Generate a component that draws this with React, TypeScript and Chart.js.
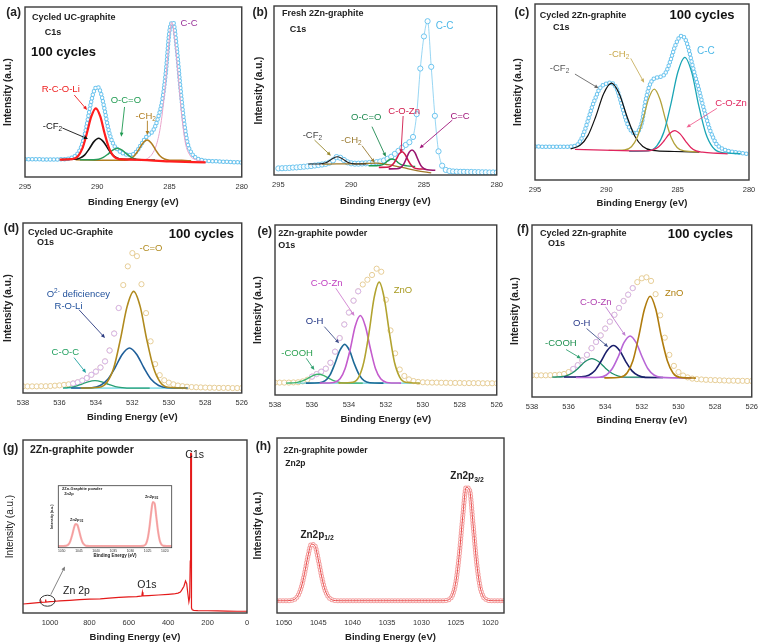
import React, { useEffect, useRef } from "react";
import { Chart, registerables } from "chart.js";
Chart.register(...registerables);

const FONT = '"Liberation Sans", Arial, Helvetica, sans-serif';
Chart.defaults.font.family = FONT;

// ---------- tick labels ----------
const C1S_TICKS = [295, 290, 285, 280];
const O1S_TICKS = [538, 536, 534, 532, 530, 528, 526];
const SURVEY_TICKS = [1000, 800, 600, 400, 200, 0];
const ZN_TICKS = [1050, 1045, 1040, 1035, 1030, 1025, 1020];

// ---------- energy grids ----------
const C1S_E = [295,294.75,294.5,294.25,294,293.75,293.5,293.25,293,292.75,292.5,292.25,292,291.75,291.5,291.25,291,290.75,290.5,290.25,290,289.75,289.5,289.25,289,288.75,288.5,288.25,288,287.75,287.5,287.25,287,286.75,286.5,286.25,286,285.75,285.5,285.25,285,284.75,284.5,284.25,284,283.75,283.5,283.25,283,282.75,282.5,282.25,282,281.75,281.5,281.25,281,280.75,280.5,280.25,280];
const O1S_E = [538,537.75,537.5,537.25,537,536.75,536.5,536.25,536,535.75,535.5,535.25,535,534.75,534.5,534.25,534,533.75,533.5,533.25,533,532.75,532.5,532.25,532,531.75,531.5,531.25,531,530.75,530.5,530.25,530,529.75,529.5,529.25,529,528.75,528.5,528.25,528,527.75,527.5,527.25,527,526.75,526.5,526.25,526];
const ZN_E = [1051,1050.5,1050,1049.5,1049,1048.5,1048,1047.5,1047,1046.5,1046,1045.5,1045,1044.5,1044,1043.5,1043,1042.5,1042,1041.5,1041,1040.5,1040,1039.5,1039,1038.5,1038,1037.5,1037,1036.5,1036,1035.5,1035,1034.5,1034,1033.5,1033,1032.5,1032,1031.5,1031,1030.5,1030,1029.5,1029,1028.5,1028,1027.5,1027,1026.5,1026,1025.5,1025,1024.5,1024,1023.5,1023,1022.5,1022,1021.5,1021,1020.5,1020,1019.5,1019,1018.5,1018];

// ---------- (a) Cycled UC-graphite C1s ----------
const A_ENV = [10.5,10.5,10.4,10.4,10.4,10.3,10.3,10.3,10.3,10.3,10.4,10.5,10.8,11.4,12.6,15.2,20.5,29.5,41,50,53,49.5,40,29,21.5,17.5,15.5,14,13.2,12.9,13.5,15.3,18.5,22,24.5,26,29.5,36,45,62,86,91,76,53,33,20,14.5,11.8,10.5,9.9,9.6,9.4,9.3,9.2,9.1,9,8.9,8.8,8.7,8.6,8.5];
const A_RED_E = [292.6,291.73,291.35,291.04,290.73,290.41,290.1,289.79,289.48,289.16,288.85,288.48,287.6,285,282.5];
const A_RED_I = [10.2,10.5,12.1,16.5,25.3,35.6,40.4,35.6,25.3,16.5,12.1,10.5,10.2,9.2,8.6];
const A_CF2_E = [292.5,291.59,291.2,290.88,290.55,290.23,289.9,289.58,289.25,288.93,288.6,288.21,287.3];
const A_CF2_I = [10.3,10.4,11.1,12.9,16.6,20.8,22.8,20.8,16.6,12.9,11.1,10.4,10.3];
const A_OCO_E = [291.2,290.29,289.9,289.58,289.25,288.93,288.6,288.28,287.95,287.63,287.3,286.91,286.0];
const A_OCO_I = [10.1,10.2,10.5,11.5,13.5,15.8,16.9,15.8,13.5,11.5,10.5,10.2,10.1];
const A_CH2_E = [291.5,288.95,288.11,287.75,287.45,287.15,286.85,286.55,286.25,285.95,285.65,285.35,284.99,284.15,283.5];
const A_CH2_I = [10.1,9.8,9.9,10.6,12.3,15.8,19.9,21.8,19.9,15.8,12.3,10.6,9.9,9.8,9.5];
const A_CC_E = [287,286.5,286.2,285.9,285.6,285.3,285.05,284.85,284.65,284.4,284.15,283.9,283.6,283.2,282.6];
const A_CC_I = [9.6,11,13.5,19,31,53,78,91,82,60,36,20,13,10.2,9.2];

// ---------- (b) Fresh 2Zn-graphite C1s ----------
const B_ENV = [3.9,4.0,4.1,4.2,4.4,4.5,4.7,4.9,5.1,5.3,5.6,5.9,6.2,6.6,7.3,8.6,10.6,10.2,8.9,7.5,6.9,6.7,6.7,6.8,6.9,7.1,7.3,7.6,8.0,8.6,9.6,10.8,12.5,14.3,16.2,17.8,19.4,22.5,36,63,82,91,64,35,14,5.5,3.0,2.4,2.1,2.0,1.9,1.9,1.8,1.8,1.7,1.7,1.6,1.6,1.5,1.5,1.5];
const B_BG_E = [292,291,290,289,288.3,287.5,286.5,285.5,284.5];
const B_BG_I = [6.4,6.6,6.6,6.8,7.0,6.2,4.5,2.6,1.2];
const B_CF2_E = [292.95,292.25,291.95,291.7,291.45,291.2,290.95,290.7,290.45,290.2,289.95,289.65,288.95];
const B_CF2_I = [6.5,6.5,6.8,7.4,8.7,10.1,10.8,10.1,8.7,7.4,6.8,6.5,6.5];
const B_OCO_E = [288.8,288.24,288.0,287.8,287.6,287.4,287.2,287.0,286.8,286.6,286.4,286.16,285.6];
const B_OCO_I = [5.5,5.5,5.75,6.3,7.5,8.9,9.5,8.9,7.5,6.3,5.75,5.4,5.0];
const B_COZN_E = [288.1,287.54,287.3,287.1,286.9,286.7,286.5,286.3,286.1,285.9,285.7,285.46,284.9];
const B_COZN_I = [4.5,4.6,5.1,6.6,9.4,12.5,13.8,12.2,8.9,6.0,4.4,3.7,3.5];
const B_CEC_E = [287.42,286.86,286.62,286.42,286.22,286.02,285.82,285.62,285.42,285.22,285.02,284.78,284.22];
const B_CEC_I = [3.6,3.7,4.3,6.0,9.5,13.4,14.8,13.2,9.3,5.7,3.9,3.1,2.8];

// ---------- (c) Cycled 2Zn-graphite C1s ----------
const C_ENV = [19.0,19.0,18.9,18.9,18.9,18.9,18.9,18.9,18.9,18.9,19.0,19.2,20.3,23.4,28.4,35,41.5,46.8,51.5,53.8,54.8,55.3,54.5,51.5,45,37.5,31.5,27.8,26.5,27.8,33,45,53,57,58.1,58.5,59.3,62.5,68,74.5,79.5,81.8,80.5,75,66.5,58.5,51,43,35.5,28.8,23.8,20,18.4,17.3,16.6,16.1,15.8,15.5,15.2,15.0,14.8];
const C_CF2_E = [292.5,291.84,291.29,290.74,290.19,289.64,289.09,288.54,287.99,287.44,286.78,285.24,283.5];
const C_CF2_I = [17.7,19.7,25.2,36.1,49,55,48.9,35.8,24.7,19,16.8,16.2,15.8];
const C_CH2_E = [289.84,288.72,288.24,287.84,287.44,287.04,286.64,286.24,285.84,285.44,285.04,284.56,283.44];
const C_CH2_I = [16.8,17.1,18.9,24.1,34.2,46.1,51.6,45.9,34.0,23.8,18.5,16.5,16.0];
const C_CC_E = [288.4,287.04,286.45,285.96,285.48,284.99,284.5,284.01,283.53,283.04,282.55,281.96,280.6];
const C_CC_I = [16.3,16.6,19.5,27.4,43,61.2,69.7,61,42.5,26.7,18.7,15.7,15.0];
const C_COZN_E = [292.2,288.2,287.15,286.7,286.33,285.95,285.58,285.2,284.83,284.45,284.08,283.7,283.25,282.2,281.5];
const C_COZN_I = [17.4,16.6,16.5,17.2,18.9,22.3,26.3,28.1,26.2,22.1,18.5,16.5,15.8,15.2,14.9];

// ---------- (d) Cycled UC-Graphite O1s ----------
const D_ENV = [3.9,3.9,3.9,3.9,4.0,4.0,4.1,4.3,4.5,4.8,5.1,5.6,6.3,7.3,8.8,10.7,12.6,15.0,18.6,25,35,50,63.5,74.5,82.3,80.5,64,47,30.4,17,10.5,7.5,6.1,5.1,4.4,4.0,3.7,3.5,3.4,3.3,3.2,3.1,3.1,3.0,3.0,3.0,2.9,2.9,2.9];
const D_RAW_E = [535.25,535,534.75,534.5,534.25,534,533.75,533.5,533.25,533,532.75];
const D_RAW_I = [5.6,6.3,7.3,8.8,10.7,12.6,15.0,18.6,25,35,50];
const D_CO_E = [534.83,533.82,533.38,533.02,532.66,532.29,531.93,531.57,531.21,530.84,530.48,530.05,529.03];
const D_CO_I = [2.9,3.4,6.5,14.8,31.4,50.8,59.8,50.8,31.4,14.8,6.5,3.4,2.9];
const D_ROLI_E = [535.36,534.24,533.76,533.36,532.96,532.56,532.16,531.76,531.36,530.96,530.56,530.08,528.96];
const D_ROLI_I = [2.9,3.1,4.4,7.9,14.7,22.7,26.5,22.7,14.7,7.9,4.4,3.1,2.9];
const D_COC_E = [535.8,535.55,535.18,534.8,534.43,534.05,533.68,533.3,532.93,532.55,532.1,531.05];
const D_COC_I = [2.9,3.18,3.8,5.1,6.6,7.3,6.6,5.1,3.8,3.2,2.9,2.9];
const D_BASE_E = [535.8,529.2];
const D_BASE_I = [2.9,2.9];

// ---------- (e) 2Zn-graphite powder O1s ----------
const E_ENV = [7.3,7.3,7.3,7.3,7.4,7.5,8.0,9.0,10.8,12.3,13.7,15.5,19,25.5,33.5,41.5,48.5,55.5,61,65,67.8,70.6,74.3,72.5,56,38,24.5,15,11.2,9.2,8.2,7.7,7.5,7.4,7.3,7.3,7.2,7.2,7.1,7.1,7.1,7.0,7.0,7.0,7.0,6.9,6.9,6.9,6.9];
const E_RAW_E = [536,535.75,535.5,535.25,535,534.75,534.5,534.25,534,533.75,533.5];
const E_RAW_I = [10.8,12.3,13.7,15.5,19,25.5,33.5,41.5,48.5,55.5,61];
const E_ZNO_E = [534.56,533.79,533.46,533.19,532.91,532.64,532.36,532.09,531.81,531.54,531.26,530.93,530.16];
const E_ZNO_I = [7,7.5,10.7,19.5,36.7,57,66.4,57,36.7,19.5,10.7,7.5,7];
const E_COZN_E = [535.58,534.81,534.48,534.21,533.93,533.66,533.38,533.11,532.83,532.56,532.28,531.95,531.18];
const E_COZN_I = [7,7.4,9.5,15.4,26.9,40.5,46.8,40.5,26.9,15.4,9.5,7.4,7];
const E_OH_E = [536.33,535.6,535.28,535.02,534.76,534.49,534.23,533.97,533.71,533.44,533.18,532.87,532.13];
const E_OH_I = [7,7.2,8.4,11.8,18.4,26.2,29.8,26.2,18.4,11.8,8.4,7.2,7];
const E_COOH_E = [537.4,536.85,536.55,536.25,535.95,535.65,535.35,535.05,534.75,534.45,534.09,533.25];
const E_COOH_I = [7,7.3,8.1,9.6,11.4,12.2,11.4,9.6,8.1,7.3,7.05,7];
const E_BASE_E = [536.8,530.6];
const E_BASE_I = [7,7];

// ---------- (f) Cycled 2Zn-graphite O1s ----------
const F_ENV = [12.6,12.6,12.6,12.6,12.7,12.8,13.0,13.4,14.5,16.3,18.5,21.3,24.5,28.4,32,35.8,39.8,43.8,47.8,51.8,55.8,59.5,63.3,66.8,69,69.6,67.5,59.8,47.5,34.5,24.5,18.1,14.5,12.5,11.4,10.7,10.4,10.2,10.0,9.9,9.8,9.7,9.6,9.5,9.5,9.4,9.4,9.3,9.3];
const F_RAW_E = [535.75,535.5,535.25,535,534.75,534.5,534.25,534,533.75,533.5,533.25,533,532.75,532.5];
const F_RAW_I = [16.3,18.5,21.3,24.5,28.4,32,35.8,39.8,43.8,47.8,51.8,55.8,59.5,63.3];
const F_ZNO_E = [534.05,533.18,532.8,532.49,532.18,531.86,531.55,531.24,530.93,530.61,530.3,529.93,529.05];
const F_ZNO_I = [11.1,11.5,14.1,21.1,34.8,51,58.6,51,34.8,21.1,14,11.4,11];
const F_COZN_E = [535.6,534.33,533.94,533.62,533.29,532.97,532.64,532.32,531.99,531.67,531.34,530.95,529.3];
const F_COZN_I = [11.3,11.5,12.8,16.4,23.4,31.7,35.5,31.7,23.4,16.4,12.8,11.5,11.1];
const F_OH_E = [536.25,535.31,534.9,534.56,534.23,533.89,533.55,533.21,532.88,532.54,532.2,531.8,530.85];
const F_OH_I = [11.6,11.8,12.7,15.4,20.8,27.1,29.9,26.9,20.6,15.2,12.5,11.4,11.3];
const F_COOH_E = [536.9,536.18,535.82,535.46,535.09,534.73,534.37,534.0,533.64,533.28,532.85,531.83];
const F_COOH_I = [11.5,12.2,13.8,16.9,20.6,22.3,20.6,16.9,13.8,12.2,11.6,11.5];
const F_BASE_E = [536.5,529.3];
const F_BASE_I = [11.6,11.0];

// ---------- (g) survey ----------
const G_E = [1137,1100,1060,1048,1046,1044,1030,1024,1022,1020,1000,978,975,972,950,900,850,800,745,700,650,600,560,540,534,531,528,500,450,400,372,350,338,330,320,312,306,300,295,291,288,286,284,282.5,281,278,270,250,200,150,100,50,0];
const G_I = [5.2,5.6,6.0,6.1,6.8,6.1,6.2,6.3,7.8,6.3,6.6,6.7,7.3,6.8,7.0,7.3,7.7,8.0,8.2,8.6,9.0,9.3,9.5,9.7,9.8,12.0,9.9,10.1,10.4,10.8,11.0,11.5,12.1,13.5,15.5,18.5,17,11,6.5,9,30,92.3,92.3,40,3,1.8,1.5,1.4,1.3,1.2,1.1,1.0,1.0];

// ---------- (h) Zn2p ----------
const H_ENV = [7.0,7.0,7.0,7.0,7.2,7.7,9.6,14.3,22.5,32.5,39.3,38.5,30.6,20.6,13.0,9.1,7.5,7.1,7.0,7.0,7.0,7.0,7.0,7.0,7.0,7.0,7.0,7.0,7.0,7.0,7.0,7.0,7.0,7.0,7.0,7.0,7.0,7.0,7.0,7.0,7.0,7.0,7.0,7.0,7.0,7.0,7.0,7.0,7.0,7.1,7.7,10.1,17.7,33.5,55.1,71.8,70.2,50.8,29.6,15.5,9.3,7.5,7.1,7.0,7.0,7.0,7.0];

// ---------- helpers ----------
type Ann =
  | { k: "t"; s: string; x: number; y: number; f: number; c: string; b: boolean }
  | { k: "a"; x1: number; y1: number; x2: number; y2: number; c: string }
  | { k: "e"; x: number; y: number; rx: number; ry: number; c: string };
const T = (s: string, x: number, y: number, f: number, c = "#222", b = false): Ann => ({ k: "t", s, x, y, f, c, b });
const AR = (x1: number, y1: number, x2: number, y2: number, c: string): Ann => ({ k: "a", x1, y1, x2, y2, c });

const pts = (xs: number[], ys: number[]) => xs.map((x, i) => ({ x, y: ys[i] }));
const comp = (xs: number[], ys: number[], color: string, width = 1.5, mono = true) => ({
  data: pts(xs, ys), borderColor: color, borderWidth: width, pointRadius: 0, fill: false,
  cubicInterpolationMode: mono ? "monotone" : "default", tension: 0,
});
const marks = (xs: number[], ys: number[], color: string, line = false) => ({
  data: pts(xs, ys), showLine: line, borderColor: color, borderWidth: 0.7, pointRadius: 2.6,
  pointBorderWidth: 1, pointBorderColor: color, pointBackgroundColor: "rgba(255,255,255,0.85)",
  cubicInterpolationMode: "monotone", fill: false,
});
const rings = (xs: number[], ys: number[], color: string, outer: number, gap: number) => [
  { data: pts(xs, ys), borderColor: "#ffffff", borderWidth: outer - 2, borderDash: [0, gap], borderCapStyle: "round", pointRadius: 0, cubicInterpolationMode: "monotone", fill: false },
  { data: pts(xs, ys), borderColor: color, borderWidth: outer, borderDash: [0, gap], borderCapStyle: "round", pointRadius: 0, cubicInterpolationMode: "monotone", fill: false },
];

type Spec = {
  box: { x: number; y: number; w: number; h: number };
  area: { l: number; t: number; r: number; b: number };
  xMin: number; xMax: number; yMin?: number; yMax?: number; ticks: number[];
  yTitleX: number; xTitleY: number; titleSize: number; yTitleSize: number; yBold: boolean; tickSize: number;
  tickLen?: number; tickPad?: number; frameW?: number; head?: number;
  datasets: any[]; anns: Ann[];
};

function drawRich(ctx: CanvasRenderingContext2D, s: string, px: number, py: number, size: number, bold: boolean, color: string) {
  const parts = s.split(/(_\{[^}]*\}|\^\{[^}]*\})/).filter((p) => p.length > 0);
  let cx = px;
  ctx.fillStyle = color;
  ctx.textBaseline = "middle";
  ctx.textAlign = "left";
  for (const p of parts) {
    let t = p, fs = size, dy = 0;
    if (p.startsWith("_{")) { t = p.slice(2, -1); fs = size * 0.68; dy = size * 0.3; }
    else if (p.startsWith("^{")) { t = p.slice(2, -1); fs = size * 0.68; dy = -size * 0.35; }
    ctx.font = `${bold ? "bold " : ""}${fs}px ${FONT}`;
    ctx.fillText(t, cx, py + dy);
    cx += ctx.measureText(t).width;
  }
}

function drawArrow(ctx: CanvasRenderingContext2D, x1: number, y1: number, x2: number, y2: number, c: string, h: number) {
  const ang = Math.atan2(y2 - y1, x2 - x1);
  ctx.setLineDash([]);
  ctx.strokeStyle = c; ctx.fillStyle = c; ctx.lineWidth = 0.9;
  ctx.beginPath(); ctx.moveTo(x1, y1);
  ctx.lineTo(x2 - Math.cos(ang) * h * 0.6, y2 - Math.sin(ang) * h * 0.6); ctx.stroke();
  ctx.beginPath(); ctx.moveTo(x2, y2);
  ctx.lineTo(x2 - h * Math.cos(ang - 0.42), y2 - h * Math.sin(ang - 0.42));
  ctx.lineTo(x2 - h * Math.cos(ang + 0.42), y2 - h * Math.sin(ang + 0.42));
  ctx.closePath(); ctx.fill();
}

function annPlugin(spec: Spec) {
  return {
    id: "annots",
    afterDatasetsDraw(chart: any) {
      const { ctx, chartArea: a } = chart;
      const sx = chart.scales.x, sy = chart.scales.y;
      ctx.save();
      ctx.setLineDash([]);
      ctx.strokeStyle = "#3a3a3a"; ctx.lineWidth = spec.frameW ?? 1.4;
      ctx.strokeRect(a.left, a.top, a.right - a.left, a.bottom - a.top);
      for (const an of spec.anns) {
        if (an.k === "t") drawRich(ctx, an.s, sx.getPixelForValue(an.x), sy.getPixelForValue(an.y), an.f, an.b, an.c);
        else if (an.k === "a") drawArrow(ctx, sx.getPixelForValue(an.x1), sy.getPixelForValue(an.y1), sx.getPixelForValue(an.x2), sy.getPixelForValue(an.y2), an.c, spec.head ?? 4.5);
        else {
          ctx.beginPath(); ctx.strokeStyle = an.c; ctx.lineWidth = 1;
          ctx.ellipse(sx.getPixelForValue(an.x), sy.getPixelForValue(an.y), an.rx, an.ry, 0, 0, Math.PI * 2);
          ctx.stroke();
        }
      }
      ctx.restore();
    },
  };
}

function buildConfig(spec: Spec): any {
  const { box, area } = spec;
  const yW = area.l - box.x;
  const xH = box.y + box.h - area.b;
  const tLH = spec.titleSize * 1.2;
  const yLH = spec.yTitleSize * 1.2;
  return {
    type: "line",
    data: { datasets: spec.datasets },
    options: {
      responsive: false, animation: false, devicePixelRatio: 1, events: [],
      layout: { padding: { left: 0, top: area.t - box.y, right: box.x + box.w - area.r, bottom: 0 } },
      plugins: { legend: { display: false }, tooltip: { enabled: false }, title: { display: false } },
      scales: {
        x: {
          type: "linear", reverse: true, min: spec.xMin, max: spec.xMax,
          afterBuildTicks: (s: any) => { s.ticks = spec.ticks.map((v) => ({ value: v })); },
          afterFit: (s: any) => { s.height = xH; },
          ticks: { font: { family: FONT, size: spec.tickSize }, color: "#333", padding: spec.tickPad ?? 2, maxRotation: 0, autoSkip: false, callback: (v: any) => String(v) },
          grid: { display: true, drawOnChartArea: false, drawTicks: true, tickLength: spec.tickLen ?? 3, color: "rgba(0,0,0,0)", tickColor: "rgba(0,0,0,0)", lineWidth: 1 },
          border: { display: false },
          title: { display: true, text: "Binding Energy (eV)", color: "#222", font: { family: FONT, size: spec.titleSize, weight: "bold" }, padding: { top: 0, bottom: box.y + box.h - tLH / 2 - spec.xTitleY } },
        },
        y: {
          type: "linear", min: spec.yMin ?? 0, max: spec.yMax ?? 100,
          afterFit: (s: any) => { s.width = yW; },
          ticks: { display: false }, grid: { display: false, drawTicks: false }, border: { display: false },
          title: { display: true, text: "Intensity (a.u.)", color: "#222", font: { family: FONT, size: spec.yTitleSize, weight: spec.yBold ? "bold" : "normal" }, padding: { top: spec.yTitleX - box.x - yLH / 2, bottom: 0 } },
        },
      },
    },
    plugins: [annPlugin(spec)],
  };
}

// ---------- panel specs ----------
const BASE = { titleSize: 9.5, yTitleSize: 10, yBold: true, tickSize: 7.5 };
const PANELS: Spec[] = [
  {
    ...BASE, box: { x: 0, y: 0, w: 250, h: 212 }, area: { l: 25, t: 7, r: 245, b: 177 },
    xMin: 280, xMax: 295, ticks: C1S_TICKS, yTitleX: 8.5, xTitleY: 202,
    datasets: [
      comp(A_RED_E, A_RED_I, "#ff1e1e", 2.2), comp(A_CF2_E, A_CF2_I, "#111111", 1.6),
      comp(A_OCO_E, A_OCO_I, "#2a9d5c", 1.5), comp(A_CH2_E, A_CH2_I, "#b07d20", 1.5),
      comp(A_CC_E, A_CC_I, "#e9a5cb", 1), ...rings(C1S_E, A_ENV, "#6cc4ee", 4.5, 3.6),
    ],
    anns: [
      T("(a)", 296.3, 96.5, 12, "#222", true),
      T("Cycled UC-graphite", 294.52, 94.1, 9, "#222", true),
      T("C1s", 293.64, 84.7, 9, "#222", true),
      T("100 cycles", 294.59, 73.5, 13, "#111", true),
      T("C-C", 284.23, 90.6, 9.5, "#993399"),
      T("R-C-O-Li", 293.84, 51.8, 9.5, "#ee1c1c"), AR(291.59, 48.2, 290.7, 39.4, "#ee1c1c"),
      T("O-C=O", 289.07, 45.3, 9.5, "#1e9a50"), AR(288.11, 41.2, 288.34, 23.7, "#1e9a50"),
      T("-CH_{2}", 287.36, 35.9, 9.5, "#b07d20"), AR(286.53, 33.1, 286.53, 24.7, "#b07d20"),
      T("-CF_{2}", 293.77, 30, 9.5, "#111"), AR(292.41, 28.8, 290.64, 22.4, "#111"),
    ],
  },
  {
    ...BASE, box: { x: 250, y: 0, w: 255, h: 212 }, area: { l: 274, t: 6, r: 500, b: 175 },
    xMin: 280, xMax: 295.3, ticks: C1S_TICKS, yTitleX: 259, xTitleY: 201,
    datasets: [
      comp(B_CEC_E, B_CEC_I, "#9a1670", 1.6), comp(B_COZN_E, B_COZN_I, "#d0184a", 1.6),
      comp(B_OCO_E, B_OCO_I, "#1e9a50", 1.4), comp(B_CF2_E, B_CF2_I, "#222222", 1.2),
      comp(B_BG_E, B_BG_I, "#a07a2a", 1.3), marks(C1S_E, B_ENV, "#6cc4ee", true),
    ],
    anns: [
      T("(b)", 296.78, 95.9, 12, "#222", true),
      T("Fresh 2Zn-graphite", 294.75, 95.3, 9, "#222", true),
      T("C1s", 294.21, 85.8, 9, "#222", true),
      T("C-C", 284.19, 88.2, 10, "#4db8e8"),
      T("C=C", 283.18, 34.9, 9.5, "#a0157a"), AR(283.05, 32.5, 285.3, 15.8, "#a0157a"),
      T("C-O-Zn", 287.45, 37.9, 9.5, "#d0184a"), AR(286.43, 34.9, 286.58, 12.8, "#d0184a"),
      T("O-C=O", 290.01, 34.3, 9.5, "#1e8a50"), AR(288.57, 28.6, 287.62, 10.8, "#1e8a50"),
      T("-CH_{2}", 290.69, 20.7, 9.5, "#9a7a30"), AR(289.25, 17.3, 288.39, 7.3, "#9a7a30"),
      T("-CF_{2}", 293.33, 23.7, 9.5, "#444"), AR(292.52, 20.7, 291.39, 11.4, "#9a8a30"),
    ],
  },
  {
    ...BASE, box: { x: 505, y: 0, w: 255, h: 212 }, area: { l: 535, t: 4, r: 749, b: 180 },
    xMin: 280, xMax: 295, ticks: C1S_TICKS, yTitleX: 518, xTitleY: 203,
    datasets: [
      comp(C_COZN_E, C_COZN_I, "#e0245e", 1.3), comp(C_CC_E, C_CC_I, "#1aa5b5", 1.3),
      comp(C_CH2_E, C_CH2_I, "#b3a23c", 1.3), comp(C_CF2_E, C_CF2_I, "#111111", 1.2),
      ...rings(C1S_E, C_ENV, "#6cc4ee", 4.5, 3.6),
    ],
    anns: [
      T("(c)", 296.44, 94.9, 12, "#222", true),
      T("Cycled 2Zn-graphite", 294.66, 93.2, 9, "#222", true),
      T("C1s", 293.74, 86.4, 9, "#222", true),
      T("100 cycles", 285.57, 93.75, 13, "#111", true),
      T("C-C", 283.65, 73.3, 10, "#4db8e8"),
      T("-CH_{2}", 289.83, 71.6, 9.5, "#c8a84a"), AR(288.29, 69.1, 287.35, 55.3, "#c8b060"),
      T("-CF_{2}", 293.96, 63.6, 9.5, "#555"), AR(292.2, 60.2, 290.54, 52.1, "#666"),
      T("C-O-Zn", 282.37, 43.75, 9.5, "#e0245e"), AR(282.25, 40.7, 284.38, 29.9, "#f06292"),
    ],
  },
  {
    ...BASE, box: { x: 0, y: 212, w: 250, h: 212 }, area: { l: 23, t: 223, r: 247, b: 393 },
    xMin: 526, xMax: 538, ticks: O1S_TICKS, yTitleX: 8, xTitleY: 417,
    datasets: [
      comp(D_CO_E, D_CO_I, "#b08a1e", 1.6), comp(D_ROLI_E, D_ROLI_I, "#1f5f9a", 1.6),
      comp(D_COC_E, D_COC_I, "#2aa074", 1.3), comp(D_BASE_E, D_BASE_I, "#40c8d8", 1),
      marks(D_RAW_E, D_RAW_I, "#d6b4ea"), marks(O1S_E, D_ENV, "#e6cd96"),
    ],
    anns: [
      T("(d)", 539.06, 96.6, 12, "#222", true),
      T("Cycled UC-Graphite", 537.72, 94.3, 9, "#222", true),
      T("O1s", 537.23, 88.4, 9, "#222", true),
      T("100 cycles", 530.0, 93.1, 13, "#111", true),
      T("-C=O", 531.61, 84.9, 9.5, "#b08a1e"),
      T("O^{2-} deficiencey", 536.7, 57.8, 9.5, "#1f4f9a"),
      T("R-O-Li", 536.27, 50.8, 9.5, "#1f4f9a"), AR(534.93, 49, 533.5, 32.4, "#2a3a80"),
      T("C-O-C", 536.43, 23.7, 9.5, "#22a060"), AR(535.2, 20.8, 534.54, 11.8, "#22a0a0"),
    ],
  },
  {
    ...BASE, box: { x: 250, y: 212, w: 255, h: 212 }, area: { l: 275, t: 225, r: 502, b: 395 },
    xMin: 526, xMax: 538, ticks: O1S_TICKS, yTitleX: 258, xTitleY: 419,
    datasets: [
      comp(E_ZNO_E, E_ZNO_I, "#b2a330", 1.6), comp(E_COZN_E, E_COZN_I, "#c45ccd", 1.6),
      comp(E_OH_E, E_OH_I, "#1d6a96", 1.6), comp(E_COOH_E, E_COOH_I, "#3cb36d", 1.3),
      comp(E_BASE_E, E_BASE_I, "#49c7d6", 1),
      marks(E_RAW_E, E_RAW_I, "#d6b4ea"), marks(O1S_E, E_ENV, "#e6cd96"),
    ],
    anns: [
      T("(e)", 538.95, 95.9, 12, "#222", true),
      T("2Zn-graphite powder", 537.82, 94.7, 9, "#222", true),
      T("O1s", 537.82, 88.2, 9, "#222", true),
      T("ZnO", 531.58, 61.8, 9.5, "#a89a20"),
      T("C-O-Zn", 536.06, 65.9, 9.5, "#c040c0"), AR(534.71, 62.8, 533.7, 46.5, "#d080d0"),
      T("O-H", 536.33, 43.5, 9.5, "#1a2f80"), AR(535.33, 40.2, 534.53, 30.4, "#40508a"),
      T("-COOH", 537.66, 24.7, 9.5, "#2aa050"), AR(536.31, 21.6, 535.87, 14.7, "#30a070"),
    ],
  },
  {
    ...BASE, box: { x: 505, y: 212, w: 255, h: 212 }, area: { l: 532, t: 225, r: 752, b: 397 },
    xMin: 526, xMax: 538, ticks: O1S_TICKS, yTitleX: 515, xTitleY: 420,
    datasets: [
      comp(F_ZNO_E, F_ZNO_I, "#b07c0e", 1.6), comp(F_COZN_E, F_COZN_I, "#b866d6", 1.6),
      comp(F_OH_E, F_OH_I, "#1a1f6b", 1.6), comp(F_COOH_E, F_COOH_I, "#1f8f6a", 1.3),
      comp(F_BASE_E, F_BASE_I, "#b28ad6", 1),
      marks(F_RAW_E, F_RAW_I, "#d6b4ea"), marks(O1S_E, F_ENV, "#e6cd96"),
    ],
    anns: [
      T("(f)", 538.82, 97.1, 12, "#222", true),
      T("Cycled 2Zn-graphite", 537.56, 94.8, 9, "#222", true),
      T("O1s", 537.13, 89.5, 9, "#222", true),
      T("100 cycles", 530.58, 94.8, 13, "#111", true),
      T("ZnO", 530.74, 60.4, 9.5, "#b08010"),
      T("C-O-Zn", 535.38, 55.2, 9.5, "#b040b0"), AR(533.98, 52.4, 532.89, 35.4, "#c080d0"),
      T("O-H", 535.76, 42.9, 9.5, "#2a3a8a"), AR(535.02, 39.8, 533.84, 29.1, "#40508a"),
      T("-COOH", 537.29, 31.3, 9.5, "#1e9050"), AR(536.14, 27.6, 535.32, 22.4, "#30a070"),
    ],
  },
  {
    ...BASE, yBold: false, box: { x: 0, y: 424, w: 252, h: 220 }, area: { l: 23, t: 440, r: 247, b: 613 },
    xMin: 0, xMax: 1137, ticks: SURVEY_TICKS, yTitleX: 10, xTitleY: 637,
    datasets: [comp(G_E, G_I, "#e41a1a", 1.2, false)],
    anns: [
      T("(g)", 1239, 94.8, 12, "#222", true),
      T("2Zn-graphite powder", 1102, 94.2, 10.5, "#222", true),
      T("C1s", 313, 91.3, 10.5, "#222"),
      T("O1s", 557, 16.3, 10.5, "#222"),
      T("Zn 2p", 934, 12.9, 10.5, "#222"),
      { k: "e", x: 1013, y: 7.1, rx: 7.5, ry: 5.5, c: "#333" },
      AR(996, 10.6, 924, 26.9, "#777"),
    ],
  },
  {
    ...BASE, box: { x: 252, y: 424, w: 258, h: 220 }, area: { l: 277, t: 438, r: 504, b: 613 },
    xMin: 1018, xMax: 1051, ticks: ZN_TICKS, yTitleX: 258, xTitleY: 637,
    datasets: [comp(ZN_E, H_ENV, "#e84848", 1), ...rings(ZN_E, H_ENV, "#f4a0a0", 5, 3)],
    anns: [
      T("(h)", 1054.1, 95, 12, "#222", true),
      T("2Zn-graphite powder", 1050.05, 92.7, 8.5, "#222", true),
      T("Zn2p", 1049.8, 85.3, 8.5, "#222", true),
      T("Zn2p_{3/2}", 1025.8, 77.9, 10, "#222", true),
      T("Zn2p_{1/2}", 1047.6, 44.7, 10, "#222", true),
    ],
  },
  {
    titleSize: 4.5, yTitleSize: 3.6, yBold: true, tickSize: 3.4, tickLen: 1, tickPad: 0.5, frameW: 0.8, head: 2,
    box: { x: 45, y: 480, w: 135, h: 84 }, area: { l: 58.3, t: 485.7, r: 171.7, b: 547.7 },
    xMin: 1018, xMax: 1051, yMin: 4.5, yMax: 96, ticks: ZN_TICKS, yTitleX: 52, xTitleY: 556,
    datasets: [comp(ZN_E, H_ENV, "#f08a8a", 0.6), comp(ZN_E, H_ENV, "#f8b4b4", 2.2)],
    anns: [
      T("2Zn-Graphite powder", 1049.9, 91.1, 4, "#222", true),
      T("Zn2p", 1049.3, 83.7, 4, "#222", true),
      T("Zn2p_{1/2}", 1047.6, 45.4, 4, "#222", true),
      T("Zn2p_{3/2}", 1025.8, 79.3, 4, "#222", true),
    ],
  },
];

function Panel({ spec }: { spec: Spec }) {
  const ref = useRef<HTMLCanvasElement>(null);
  useEffect(() => {
    const c = ref.current;
    if (!c) return;
    const chart = new Chart(c, buildConfig(spec));
    return () => chart.destroy();
  }, [spec]);
  return (
    <canvas
      ref={ref}
      width={spec.box.w}
      height={spec.box.h}
      style={{ position: "absolute", left: spec.box.x, top: spec.box.y, width: spec.box.w, height: spec.box.h }}
    />
  );
}

export default function App() {
  return (
    <div style={{ position: "absolute", left: 0, top: 0, width: 760, height: 644, background: "#fff", overflow: "hidden" }}>
      {PANELS.map((p, i) => (
        <Panel key={i} spec={p} />
      ))}
    </div>
  );
}
